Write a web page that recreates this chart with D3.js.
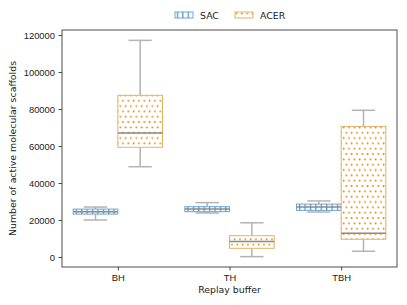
<!DOCTYPE html>
<html>
<head>
<meta charset="utf-8">
<script src="https://cdn.jsdelivr.net/npm/d3@7"></script>
<style>
  body { margin: 0; background: #fff; }
  svg { font-family: "DejaVu Sans", sans-serif; }
</style>
</head>
<body>
<svg id="chart"></svg>
<script>
const categories = ["BH", "TH", "TBH"];
const seriesNames = ["SAC", "ACER"];
// [lower whisker, q1, median, q3, upper whisker]
const sacStats = [
  [20000, 23200, 24500, 25900, 27000],
  [23800, 24500, 26000, 27200, 29400],
  [24300, 25200, 27000, 28600, 30300]
];
const acerStats = [
  [48800, 59300, 67000, 87400, 117100],
  [200, 4700, 8400, 11500, 18500],
  [3100, 9600, 12800, 70600, 79300]
];
const yTicks = [0, 20000, 40000, 60000, 80000, 100000, 120000];

const W = 407, H = 305;
const margin = { top: 30, right: 10, bottom: 38, left: 62 };
const width = W - margin.left - margin.right;
const height = H - margin.top - margin.bottom;
const fs = "9.4px";

const svg = d3.select("#chart").attr("width", W).attr("height", H);

const defs = svg.append("defs");
const hatchV = defs.append("pattern")
  .attr("id", "hatch-sac")
  .attr("patternUnits", "userSpaceOnUse")
  .attr("width", 5.4).attr("height", 10);
hatchV.append("line")
  .attr("x1", 2.5).attr("x2", 2.5).attr("y1", 0).attr("y2", 10)
  .attr("stroke", "#2f73b0").attr("stroke-width", 1);

const hatchDot = defs.append("pattern")
  .attr("id", "hatch-acer")
  .attr("patternUnits", "userSpaceOnUse")
  .attr("width", 5.33).attr("height", 10.66);
hatchDot.append("circle").attr("cx", 1.5).attr("cy", 1.5).attr("r", 0.95).attr("fill", "#d48a14");
hatchDot.append("circle").attr("cx", 4.15).attr("cy", 6.83).attr("r", 0.95).attr("fill", "#d48a14");

const styles = {
  SAC: { edge: "#6aa6d6", fill: "url(#hatch-sac)" },
  ACER: { edge: "#e3b264", fill: "url(#hatch-acer)" }
};

const g = svg.append("g").attr("transform", `translate(${margin.left},${margin.top})`);

const x = d3.scalePoint().domain(categories).range([0, width]).padding(0.5);
const y = d3.scaleLinear().domain([-5400, 122700]).range([height, 0]);

const step = x.step();
const boxW = step * 0.8 / 2;

const yAxis = g.append("g")
  .call(d3.axisLeft(y).tickValues(yTicks).tickSize(3.5).tickPadding(3.5).tickFormat(d3.format("d")));
const xAxis = g.append("g")
  .attr("transform", `translate(0,${height})`)
  .call(d3.axisBottom(x).tickSize(3.5).tickPadding(3.5));
[yAxis, xAxis].forEach(a => {
  a.select(".domain").remove();
  a.selectAll("line").attr("stroke", "#222").attr("stroke-width", 0.8);
  a.selectAll("text").attr("fill", "#222").style("font-size", fs);
});

const all = [];
categories.forEach((c, i) => {
  all.push({ cat: c, s: "SAC", v: sacStats[i], off: -boxW / 2 });
  all.push({ cat: c, s: "ACER", v: acerStats[i], off: boxW / 2 });
});

const boxes = g.selectAll(".box").data(all).enter().append("g")
  .attr("class", "box")
  .attr("transform", d => `translate(${x(d.cat) + d.off},0)`);

const whiskerColor = "#b3b3b3";
boxes.append("line")
  .attr("x1", 0).attr("x2", 0)
  .attr("y1", d => y(d.v[3])).attr("y2", d => y(d.v[4]))
  .attr("stroke", whiskerColor).attr("stroke-width", 1.5);
boxes.append("line")
  .attr("x1", 0).attr("x2", 0)
  .attr("y1", d => y(d.v[1])).attr("y2", d => y(d.v[0]))
  .attr("stroke", whiskerColor).attr("stroke-width", 1.5);
[0, 4].forEach(k => {
  boxes.append("line")
    .attr("x1", -boxW / 4 - 0.5).attr("x2", boxW / 4 + 0.5)
    .attr("y1", d => y(d.v[k])).attr("y2", d => y(d.v[k]))
    .attr("stroke", whiskerColor).attr("stroke-width", 1.5);
});
boxes.append("rect")
  .attr("x", -boxW / 2).attr("width", boxW)
  .attr("y", d => y(d.v[3]))
  .attr("height", d => y(d.v[1]) - y(d.v[3]))
  .attr("fill", "#fff");
boxes.append("rect")
  .attr("x", -boxW / 2).attr("width", boxW)
  .attr("y", d => y(d.v[3]))
  .attr("height", d => y(d.v[1]) - y(d.v[3]))
  .attr("fill", d => styles[d.s].fill)
  .attr("stroke", d => styles[d.s].edge)
  .attr("stroke-width", 1);
boxes.append("line")
  .attr("x1", -boxW / 2).attr("x2", boxW / 2)
  .attr("y1", d => y(d.v[2])).attr("y2", d => y(d.v[2]))
  .attr("stroke", "#8a8a8a").attr("stroke-width", 1.5);

// frame
g.append("rect")
  .attr("width", width).attr("height", height)
  .attr("fill", "none").attr("stroke", "#222").attr("stroke-width", 0.8);

// axis labels
g.append("text")
  .attr("transform", `translate(${-46},${height / 2}) rotate(-90)`)
  .attr("text-anchor", "middle")
  .style("font-size", fs).attr("fill", "#222")
  .text("Number of active molecular scaffolds");
g.append("text")
  .attr("x", width / 2).attr("y", height + 26)
  .attr("text-anchor", "middle")
  .style("font-size", fs).attr("fill", "#222")
  .text("Replay buffer");

// legend
const legend = svg.append("g").attr("transform", "translate(175,12)");
const item = legend.selectAll(".item").data(seriesNames).enter().append("g")
  .attr("transform", (d, i) => `translate(${i * 60},0)`);
item.append("rect")
  .attr("width", 18).attr("height", 6)
  .attr("fill", d => styles[d].fill)
  .attr("stroke", d => styles[d].edge).attr("stroke-width", 1);
item.append("text")
  .attr("x", 25).attr("y", 6.5)
  .style("font-size", fs).attr("fill", "#222")
  .text(d => d);
</script>
</body>
</html>
